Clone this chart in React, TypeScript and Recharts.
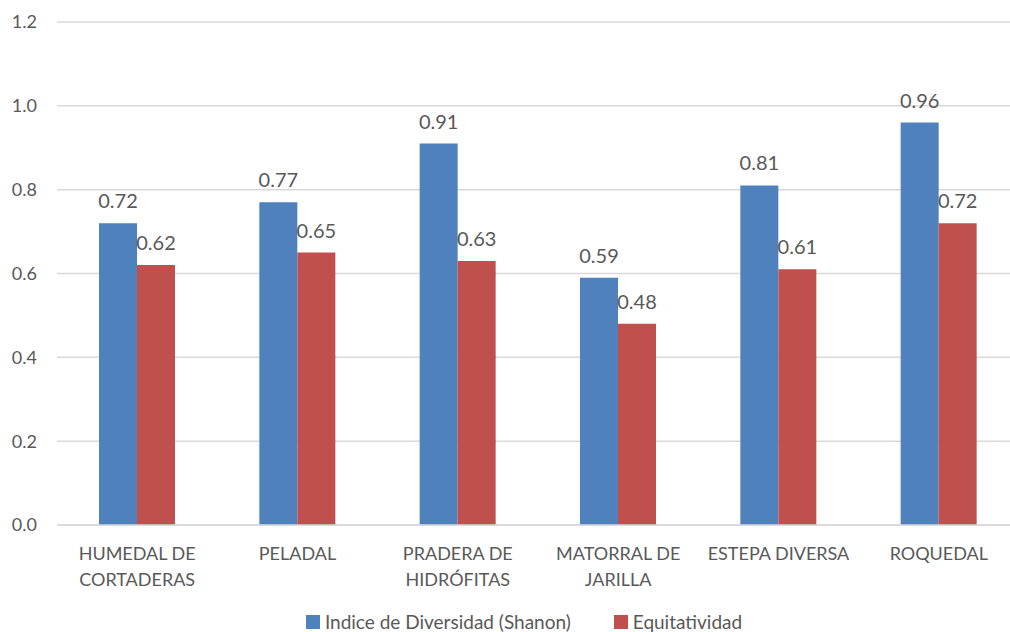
import React from "react";
import {
  BarChart,
  Bar,
  CartesianGrid,
  XAxis,
  YAxis,
  Legend,
  LabelList,
} from "recharts";

const categories = [
  "HUMEDAL DE\nCORTADERAS",
  "PELADAL",
  "PRADERA DE\nHIDRÓFITAS",
  "MATORRAL DE\nJARILLA",
  "ESTEPA DIVERSA",
  "ROQUEDAL",
];
const shannon = [0.72, 0.77, 0.91, 0.59, 0.81, 0.96];
const equitatividad = [0.62, 0.65, 0.63, 0.48, 0.61, 0.72];
const yTicks = [0, 0.2, 0.4, 0.6, 0.8, 1.0, 1.2];

const BLUE = "#4F81BD";
const RED = "#C0504D";
const TEXT = "#595959";
const FONT = "Lato, 'Open Sans', sans-serif";

const data = categories.map((c, i) => ({
  name: c,
  shannon: shannon[i],
  equitatividad: equitatividad[i],
}));

function CategoryTick(props: any) {
  const { x, y, payload } = props;
  const lines = String(payload.value).split("\n");
  return (
    <text
      x={x}
      y={y}
      textAnchor="middle"
      fill={TEXT}
      fontFamily={FONT}
      fontSize={18}
    >
      {lines.map((l: string, i: number) => (
        <tspan key={i} x={x} dy={i === 0 ? 27 : 26}>
          {l}
        </tspan>
      ))}
    </text>
  );
}

function LegendContent() {
  const items = [
    { label: "Indice de Diversidad (Shanon)", color: BLUE },
    { label: "Equitatividad", color: RED },
  ];
  return (
    <div
      style={{
        height: 20,
        lineHeight: "20px",
        display: "flex",
        justifyContent: "center",
        alignItems: "center",
        gap: 43,
        paddingLeft: 29,
        boxSizing: "border-box",
        fontFamily: FONT,
        fontSize: 19,
        color: TEXT,
      }}
    >
      {items.map((it) => (
        <div key={it.label} style={{ display: "flex", alignItems: "center" }}>
          <span
            style={{
              width: 14,
              height: 14,
              background: it.color,
              display: "inline-block",
              marginRight: 5,
            }}
          />
          <span>{it.label}</span>
        </div>
      ))}
    </div>
  );
}

export default function App() {
  return (
    <div
      style={{
        position: "absolute",
        left: 0,
        top: 0,
        width: 1010,
        height: 632,
        overflow: "hidden",
        background: "#fff",
      }}
    >
      <BarChart
        width={1020}
        height={632}
        data={data}
        margin={{ top: 22, right: 1, bottom: 0, left: 0 }}
        barGap={0}
        barCategoryGap={0}
      >
        <CartesianGrid vertical={false} stroke="#D9D9D9" strokeWidth={1.5} />
        <XAxis
          dataKey="name"
          height={87}
          tickLine={false}
          axisLine={{ stroke: "#D9D9D9", strokeWidth: 1.5 }}
          tick={<CategoryTick />}
          interval={0}
        />
        <YAxis
          width={57}
          domain={[0, 1.2]}
          ticks={yTicks}
          tickFormatter={(v: number) => v.toFixed(1)}
          axisLine={false}
          tickLine={false}
          tickMargin={14}
          tick={{ fill: TEXT, fontFamily: FONT, fontSize: 18 }}
        />
        <Legend verticalAlign="bottom" height={20} content={<LegendContent />} />
        <Bar
          dataKey="shannon"
          fill={BLUE}
          barSize={38}
          isAnimationActive={false}
        >
          <LabelList
            dataKey="shannon"
            position="top"
            offset={15}
            formatter={(v: any) => Number(v).toFixed(2)}
            fill={TEXT}
            fontFamily={FONT}
            fontSize={20}
          />
        </Bar>
        <Bar
          dataKey="equitatividad"
          fill={RED}
          barSize={38}
          isAnimationActive={false}
        >
          <LabelList
            dataKey="equitatividad"
            position="top"
            offset={15}
            formatter={(v: any) => Number(v).toFixed(2)}
            fill={TEXT}
            fontFamily={FONT}
            fontSize={20}
          />
        </Bar>
      </BarChart>
    </div>
  );
}
